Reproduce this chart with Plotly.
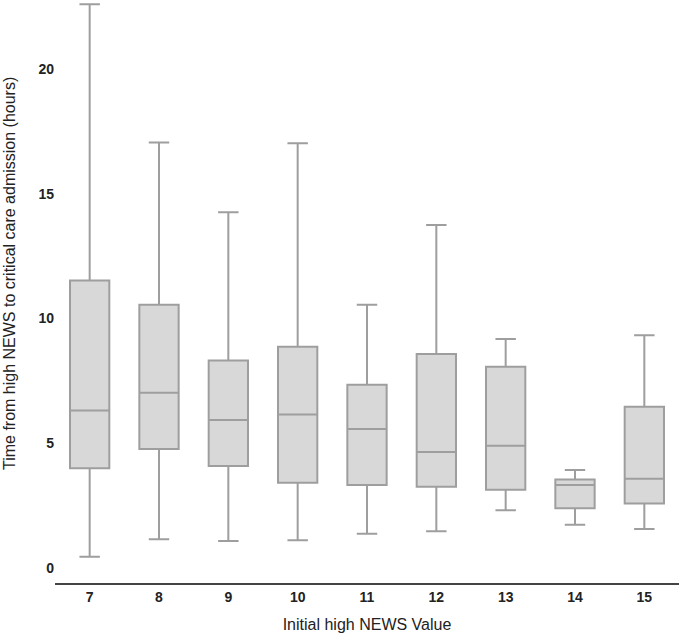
import plotly.graph_objects as go

categories = ["7", "8", "9", "10", "11", "12", "13", "14", "15"]
lower_whisker = [0.45, 1.15, 1.08, 1.11, 1.37, 1.47, 2.32, 1.74, 1.56]
q1_values = [4.00, 4.77, 4.09, 3.42, 3.33, 3.26, 3.14, 2.40, 2.59]
median_values = [6.31, 7.03, 5.93, 6.15, 5.57, 4.65, 4.90, 3.33, 3.58]
q3_values = [11.53, 10.55, 8.32, 8.87, 7.35, 8.58, 8.07, 3.55, 6.47]
upper_whisker = [22.6, 17.06, 14.26, 17.03, 10.55, 13.75, 9.18, 3.93, 9.33]
y_ticks = [0, 5, 10, 15, 20]

x_title = "Initial high NEWS Value"
y_title = "Time from high NEWS to critical care admission (hours)"

fig = go.Figure()
fig.add_trace(go.Box(
    x=categories,
    q1=q1_values,
    median=median_values,
    q3=q3_values,
    lowerfence=lower_whisker,
    upperfence=upper_whisker,
    fillcolor="#d8d8d9",
    line=dict(color="#9e9e9e", width=2),
    whiskerwidth=0.52,
    boxpoints=False,
    hoverinfo="skip",
    showlegend=False,
))

font_family = "Liberation Sans, Arial, sans-serif"
fig.update_layout(
    width=685,
    height=639,
    margin=dict(l=55, r=6, t=0, b=56),
    paper_bgcolor="white",
    plot_bgcolor="white",
    boxgap=0.19,
    font=dict(family=font_family, color="#222222", size=14),
    xaxis=dict(
        type="category",
        categoryorder="array",
        categoryarray=categories,
        range=[-0.5, 8.5],
        showline=True,
        linecolor="#444444",
        linewidth=1.5,
        showgrid=False,
        zeroline=False,
        ticks="",
        tickfont=dict(family=font_family, size=14, color="#222222", weight="bold"),
        title=dict(text=x_title, font=dict(size=16), standoff=15),
        automargin=False,
    ),
    yaxis=dict(
        range=[-0.6, 22.77],
        tickvals=y_ticks,
        ticktext=[str(v) for v in y_ticks],
        showline=False,
        showgrid=False,
        zeroline=False,
        ticks="",
        tickfont=dict(family=font_family, size=14, color="#222222", weight="bold"),
        automargin=False,
    ),
    annotations=[dict(
        text=y_title,
        xref="paper", yref="paper",
        x=0, y=0.53,
        xshift=-46,
        xanchor="center", yanchor="middle",
        textangle=-90,
        showarrow=False,
        font=dict(size=16, color="#222222", family=font_family),
    )],
)

fig.write_html(
    "out.html",
    config={"displayModeBar": False},
    post_script="document.body.style.margin='0';document.body.style.overflow='hidden';",
)
